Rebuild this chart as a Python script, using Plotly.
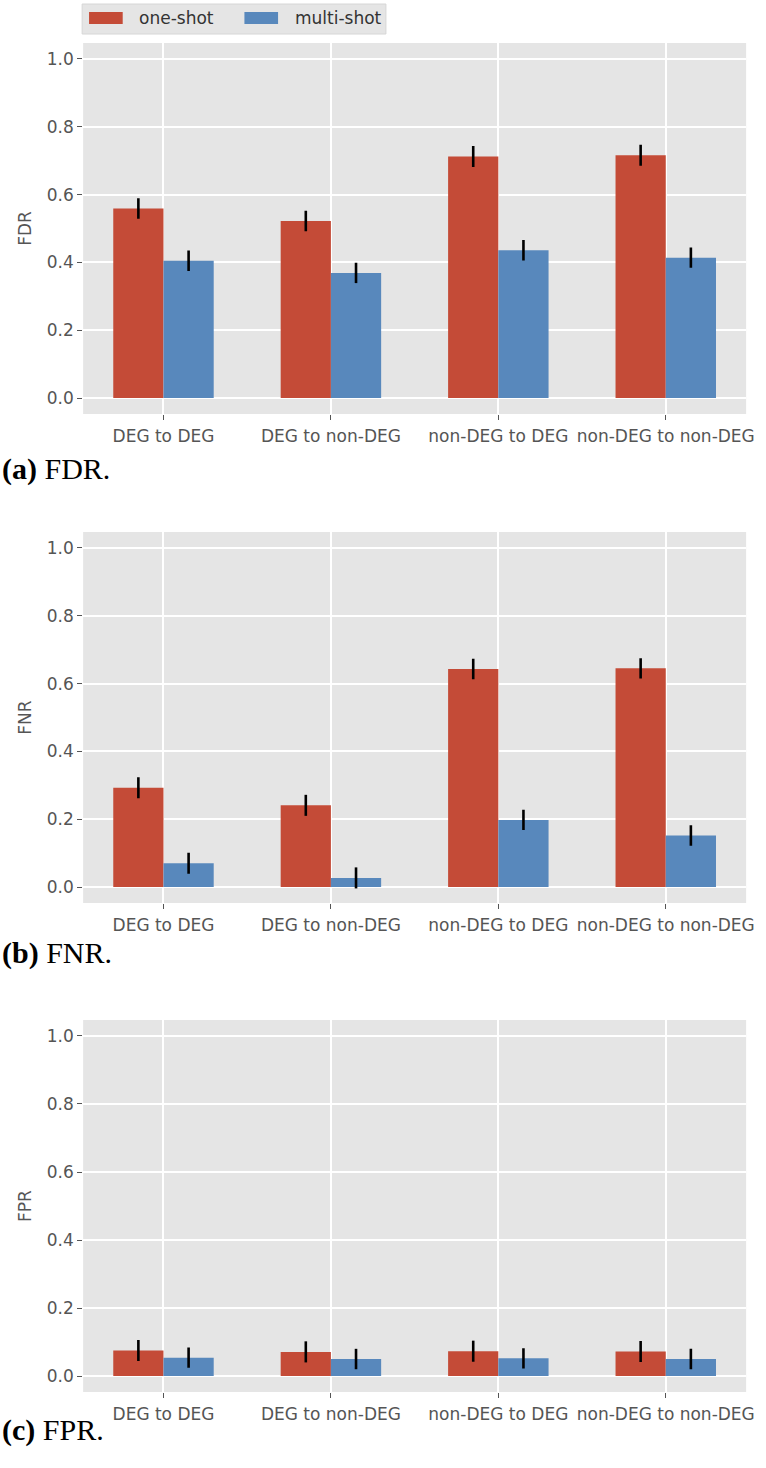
import plotly.graph_objects as go

categories = ["DEG to DEG", "DEG to non-DEG", "non-DEG to DEG", "non-DEG to non-DEG"]
series_names = ["one-shot", "multi-shot"]

fdr_one = [0.559, 0.522, 0.712, 0.716]
fdr_multi = [0.405, 0.369, 0.436, 0.414]
fdr_one_err = [0.030, 0.030, 0.031, 0.031]
fdr_multi_err = [0.030, 0.030, 0.030, 0.030]

fnr_one = [0.293, 0.241, 0.643, 0.645]
fnr_multi = [0.070, 0.027, 0.198, 0.152]
fnr_one_err = [0.031, 0.031, 0.030, 0.030]
fnr_multi_err = [0.031, 0.031, 0.030, 0.030]

fpr_one = [0.075, 0.071, 0.073, 0.072]
fpr_multi = [0.054, 0.050, 0.052, 0.050]
fpr_one_err = [0.031, 0.031, 0.031, 0.031]
fpr_multi_err = [0.030, 0.030, 0.030, 0.030]

panel_titles = ["FDR", "FNR", "FPR"]
captions = [("a", "FDR."), ("b", "FNR."), ("c", "FPR.")]
y_ticks = [0.0, 0.2, 0.4, 0.6, 0.8, 1.0]

RED = "#C44B37"
BLUE = "#5888BC"
BG = "#E5E5E5"
TXT = "#555555"
W, H = 766, 1468

panels = [
    (fdr_one, fdr_multi, fdr_one_err, fdr_multi_err),
    (fnr_one, fnr_multi, fnr_one_err, fnr_multi_err),
    (fpr_one, fpr_multi, fpr_one_err, fpr_multi_err),
]

# pixel layout of plot areas (top, bottom)
px_areas = [(43, 414), (532, 903), (1020, 1392)]
x_left, x_right = 84, 754
caption_y = [469, 953, 1430]

fig = go.Figure()
layout = dict(
    width=W, height=H,
    margin=dict(l=0, r=0, t=0, b=0),
    paper_bgcolor="white",
    plot_bgcolor=BG,
    showlegend=False,
    font=dict(family="DejaVu Sans", size=17, color=TXT),
    annotations=[],
    shapes=[],
)

for i, (one, multi, e1, e2) in enumerate(panels):
    n = "" if i == 0 else str(i + 1)
    xa = "x" + n
    ya = "y" + n
    fig.add_trace(go.Bar(
        x=categories, y=one, width=0.3, offset=-0.3,
        marker=dict(color=RED, line=dict(width=0)),
        error_y=dict(type="data", array=e1, color="black", thickness=2.6, width=0),
        name=series_names[0], xaxis=xa, yaxis=ya,
    ))
    fig.add_trace(go.Bar(
        x=categories, y=multi, width=0.3, offset=0.0,
        marker=dict(color=BLUE, line=dict(width=0)),
        error_y=dict(type="data", array=e2, color="black", thickness=2.6, width=0),
        name=series_names[1], xaxis=xa, yaxis=ya,
    ))
    top, bot = px_areas[i]
    layout["xaxis" + n] = dict(
        domain=[x_left / W, x_right / W],
        anchor=ya,
        type="category",
        range=[-0.48, 3.48],
        showgrid=True, gridcolor="white", gridwidth=1.5,
        ticks="outside", ticklen=5, tickcolor=TXT, tickwidth=1,
        ticklabelstandoff=2,
        tickfont=dict(size=17, color=TXT),
        showline=False, zeroline=False,
    )
    layout["yaxis" + n] = dict(
        domain=[1 - bot / H, 1 - top / H],
        anchor=xa,
        range=[-0.047, 1.047],
        tickvals=y_ticks,
        ticktext=[f"{v:.1f}" for v in y_ticks],
        showgrid=True, gridcolor="white", gridwidth=1.5,
        ticks="outside", ticklen=5, tickcolor=TXT, tickwidth=1,
        tickfont=dict(size=17, color=TXT),
        zeroline=False, showline=False,
        title=dict(text=panel_titles[i], font=dict(size=17, color=TXT), standoff=10),
    )
    letter, word = captions[i]
    layout["annotations"].append(dict(
        xref="paper", yref="paper", x=0.0, y=1 - caption_y[i] / H,
        xanchor="left", yanchor="middle", showarrow=False,
        text=f"<b>({letter})</b> {word}",
        font=dict(family="Liberation Serif", size=30, color="black"),
    ))

# manual legend (matplotlib-style wide patches)
layout["shapes"].append(dict(
    type="rect", xref="paper", yref="paper",
    x0=83 / W, x1=390 / W, y0=1 - 34 / H, y1=1 - 4 / H,
    fillcolor="#E5E5E5", line=dict(color="#D6D6D6", width=1), layer="below",
))
for j, (col, label, px0, tx) in enumerate([(RED, series_names[0], 90, 138), (BLUE, series_names[1], 247, 296)]):
    layout["shapes"].append(dict(
        type="rect", xref="paper", yref="paper",
        x0=px0 / W, x1=(px0 + 34) / W, y0=1 - 24 / H, y1=1 - 12 / H,
        fillcolor=col, line=dict(width=0),
    ))
    layout["annotations"].append(dict(
        xref="paper", yref="paper", x=tx / W, y=1 - 18 / H,
        xanchor="left", yanchor="middle", showarrow=False,
        text=label, font=dict(size=17, color="#333333"),
    ))

fig.update_layout(**layout)
fig.write_html("out.html", config={"displayModeBar": False},
               post_script="document.body.style.margin='0';")
